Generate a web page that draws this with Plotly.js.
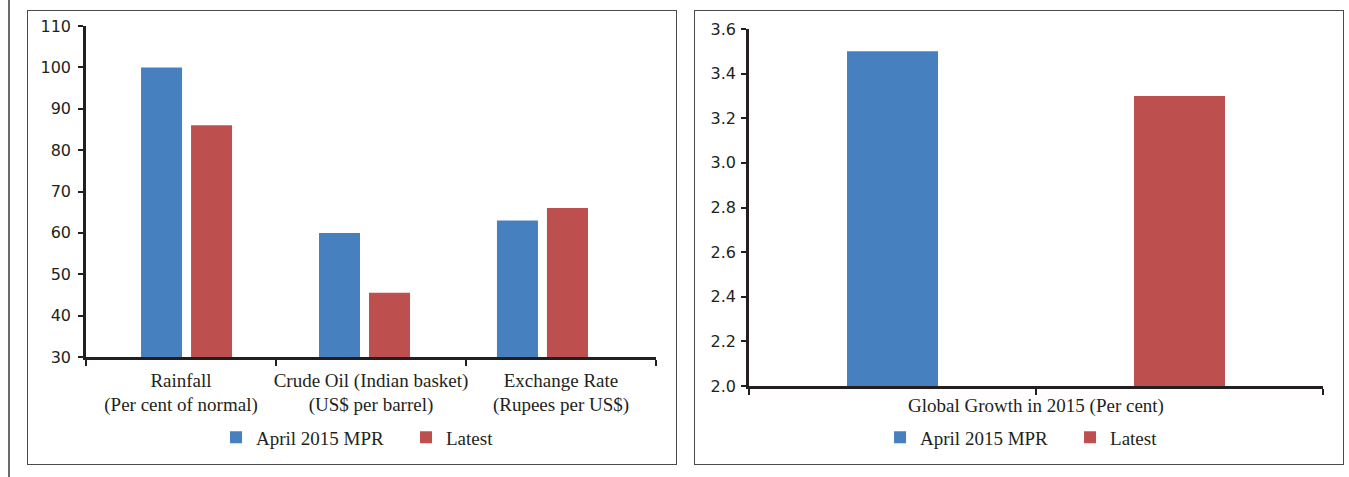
<!DOCTYPE html>
<html>
<head>
<meta charset="utf-8">
<script src="https://cdn.plot.ly/plotly-3.0.1.min.js"></script>
<style>
  html, body { margin: 0; padding: 0; background: #ffffff; }
  body { width: 1349px; height: 477px; position: relative; overflow: hidden; }
  .pageline { position: absolute; left: 8px; top: 0; width: 1.5px; height: 477px; background: #6a6a6a; }
  .panel { position: absolute; top: 10px; width: 650px; height: 455px; box-sizing: border-box; border: 1.5px solid #4a4a4a; background: #fff; }
  .plot { position: absolute; left: 0; top: 0; width: 647px; height: 452px; }
</style>
</head>
<body>
<div class="pageline"></div>
<div class="panel" style="left:27px;"><div id="chartA" class="plot"></div></div>
<div class="panel" style="left:694px;"><div id="chartB" class="plot"></div></div>
<script>
// ---- Data: left panel ----
const categories = [
  "Rainfall<br>(Per cent of normal)",
  "Crude Oil (Indian basket)<br>(US$ per barrel)",
  "Exchange Rate<br>(Rupees per US$)"
];
const seriesNames = ["April 2015 MPR", "Latest"];
const aprilValues = [100, 60, 63];
const latestValues = [86, 45.5, 66];
const leftTickVals = [30, 40, 50, 60, 70, 80, 90, 100, 110];

// ---- Data: right panel ----
const growthTitle = "Global Growth in 2015 (Per cent)";
const growthCategories = ["April 2015 MPR", "Latest"];
const growthValues = [3.5, 3.3];
const rightTickVals = [2.0, 2.2, 2.4, 2.6, 2.8, 3.0, 3.2, 3.4, 3.6];
const rightTickText = ["2.0", "2.2", "2.4", "2.6", "2.8", "3.0", "3.2", "3.4", "3.6"];

const BLUE = "#4680BF";
const RED = "#BD504E";
const INK = "#231f20";
const SERIF = "Liberation Serif, serif";
const SANS = "DejaVu Sans, sans-serif";

const legendCommon = {
  orientation: "h",
  xref: "container", yref: "container",
  xanchor: "left", yanchor: "middle",
  font: { family: SERIF, size: 19, color: INK },
  entrywidth: 145, entrywidthmode: "pixels",
  bgcolor: "rgba(0,0,0,0)",
  itemclick: false, itemdoubleclick: false
};

// ---- Chart A ----
const tracesA = [
  { type: "bar", name: seriesNames[0], x: categories, y: aprilValues, marker: { color: BLUE }, hoverinfo: "y+name" },
  { type: "bar", name: seriesNames[1], x: categories, y: latestValues, marker: { color: RED }, hoverinfo: "y+name" },
  // carries the category labels on the visible axis
  { type: "scatter", mode: "none", x: categories, y: aprilValues, xaxis: "x2", showlegend: false, hoverinfo: "skip" }
];
const layoutA = {
  width: 647, height: 452,
  margin: { l: 58, r: 19, t: 15, b: 106 },
  paper_bgcolor: "#ffffff", plot_bgcolor: "#ffffff",
  barmode: "group", bargap: 0.438, bargroupgap: 0.18,
  showlegend: true,
  legend: Object.assign({}, legendCommon, { x: 0.2906, y: 0.0564 }),
  xaxis: {
    type: "category", categoryorder: "array", categoryarray: categories,
    range: [-0.565, 2.638],
    showticklabels: false, ticks: "", showline: false,
    showgrid: false, zeroline: false, fixedrange: true
  },
  xaxis2: {
    type: "category", categoryorder: "array", categoryarray: categories,
    overlaying: "x", anchor: "y", side: "bottom",
    range: [-0.5, 2.5], tickangle: 0,
    showline: true, linecolor: INK, linewidth: 2.5,
    ticks: "outside", tickson: "boundaries", ticklen: 6, tickcolor: INK, tickwidth: 1.5,
    ticklabelstandoff: 4,
    tickfont: { family: SERIF, size: 19, color: INK },
    showgrid: false, zeroline: false, fixedrange: true
  },
  yaxis: {
    range: [30, 110], tickvals: leftTickVals,
    showline: true, linecolor: INK, linewidth: 2.5,
    ticks: "outside", ticklen: 5, tickcolor: INK, tickwidth: 1.5,
    ticklabelstandoff: 4,
    tickfont: { family: SANS, size: 16, color: INK },
    showgrid: false, zeroline: false, fixedrange: true
  }
};

// ---- Chart B ----
const tracesB = [
  { type: "bar", name: growthCategories[0], x: [growthCategories[0]], y: [growthValues[0]], marker: { color: BLUE }, hoverinfo: "y+name" },
  { type: "bar", name: growthCategories[1], x: [growthCategories[1]], y: [growthValues[1]], marker: { color: RED }, hoverinfo: "y+name" }
];
const layoutB = {
  width: 647, height: 452,
  margin: { l: 54, r: 19, t: 18, b: 77 },
  paper_bgcolor: "#ffffff", plot_bgcolor: "#ffffff",
  barmode: "overlay", bargap: 0.683,
  showlegend: true,
  legend: Object.assign({}, legendCommon, { x: 0.286, y: 0.0564 }),
  xaxis: {
    type: "category", categoryorder: "array", categoryarray: growthCategories,
    showticklabels: false,
    title: { text: growthTitle, font: { family: SERIF, size: 19, color: INK }, standoff: 11 },
    showline: true, linecolor: INK, linewidth: 2.5,
    ticks: "outside", tickson: "boundaries", ticklen: 6, tickcolor: INK, tickwidth: 1.5,
    showgrid: false, zeroline: false, fixedrange: true
  },
  yaxis: {
    range: [2.0, 3.6], tickvals: rightTickVals, ticktext: rightTickText,
    showline: true, linecolor: INK, linewidth: 2.5,
    ticks: "outside", ticklen: 5, tickcolor: INK, tickwidth: 1.5,
    ticklabelstandoff: 2,
    tickfont: { family: SANS, size: 16, color: INK },
    showgrid: false, zeroline: false, fixedrange: true
  }
};

const config = { displayModeBar: false, responsive: false };
Plotly.newPlot("chartA", tracesA, layoutA, config);
Plotly.newPlot("chartB", tracesB, layoutB, config);
</script>
</body>
</html>
